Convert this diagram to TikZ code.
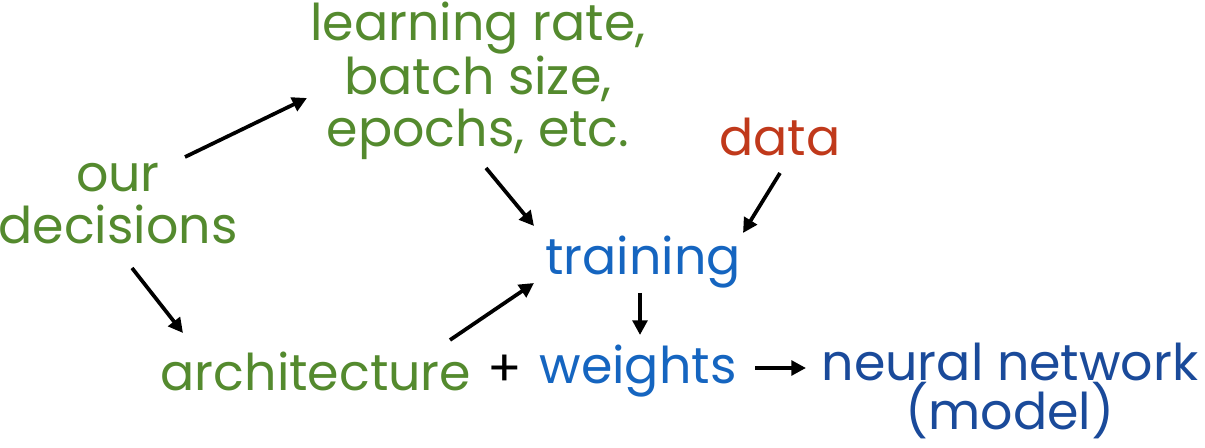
\documentclass[tikz,border=0pt]{standalone}
\usepackage{fontspec}
\setmainfont{Poppins}
\definecolor{leafgreen}{HTML}{548A2E}
\definecolor{trainblue}{HTML}{1565C0}
\definecolor{datared}{HTML}{C0391B}
\definecolor{netblue}{HTML}{1A4A9A}
\tikzset{
  lbl/.style={align=center, inner sep=2pt, font=\fontsize{38}{39}\selectfont},
  arr/.style={-{Triangle[length=11pt,width=11pt]}, line width=2.8pt, black},
}
\usetikzlibrary{arrows.meta}
\begin{document}
\begin{tikzpicture}[x=0.75pt,y=-0.75pt]
\useasboundingbox (0,0) rectangle (1205,448);
% labels
\node [lbl, text=leafgreen] (hyper) at (478,81) {learning rate,\\batch size,\\epochs, etc.};
\node [lbl, text=leafgreen] (ours) at (118,204) {our\\decisions};
\node [lbl, text=datared] (data) at (780,137) {data};
\node [lbl, text=trainblue] (train) at (643,262) {training};
\node [lbl, text=leafgreen] (arch) at (316,371) {architecture};
\node [lbl] (plus) at (505,371) {+};
\node [lbl, text=trainblue] (wts) at (638,371) {weights};
\node [lbl, text=netblue, font=\fontsize{38}{37}\selectfont] (net) at (1010,391) {neural network\\(model)};
% arrows
\draw [arr] ([shift={(67,-47)}]ours.center) -- ([shift={(-171,17)}]hyper.center);
\draw [arr] ([shift={(8,87)}]hyper.center) -- ([shift={(-109,-36)}]train.center);
\draw [arr] ([shift={(0,36)}]data.center) -- ([shift={(100,-29)}]train.center);
\draw [arr] ([shift={(14,64)}]ours.center) -- ([shift={(-133,-38)}]arch.center);
\draw [arr] ([shift={(134,-31)}]arch.center) -- ([shift={(-109,21)}]train.center);
\draw [arr] ([shift={(-3,31)}]train.center) -- ([shift={(2,-36)}]wts.center);
\draw [arr] ([shift={(117,-3)}]wts.center) -- ([shift={(-204,-23)}]net.center);
\end{tikzpicture}
\end{document}
